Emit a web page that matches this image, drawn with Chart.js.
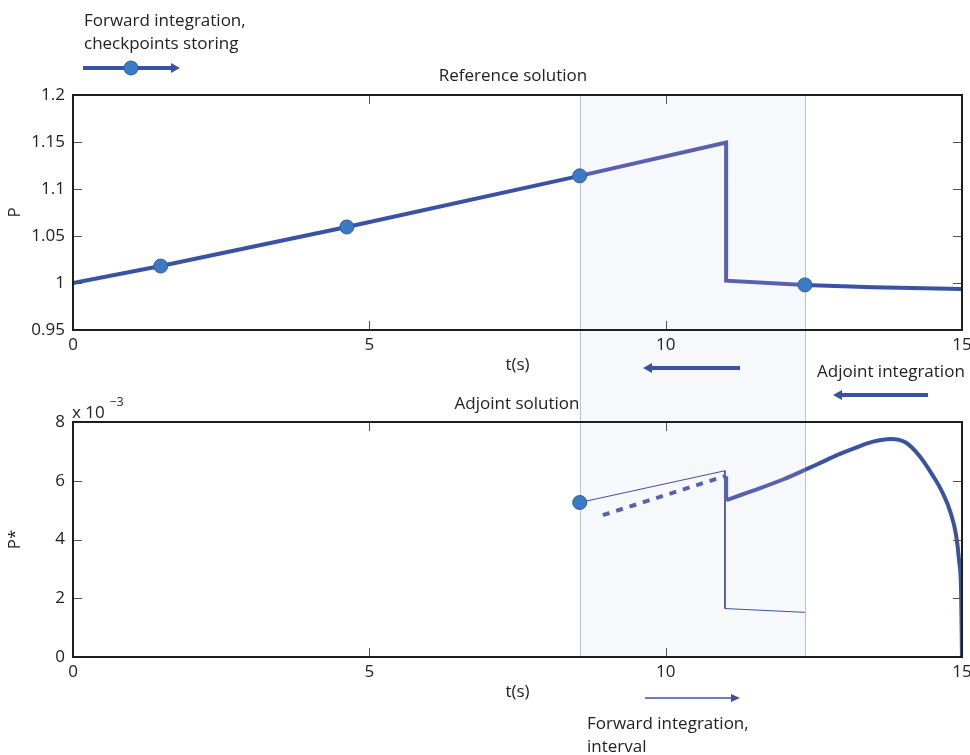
<!DOCTYPE html>
<html>
<head>
<meta charset="utf-8">
<script src="https://cdn.jsdelivr.net/npm/chart.js@4.4.0/dist/chart.umd.min.js"></script>
<style>
  html, body { margin: 0; padding: 0; background: #fff; }
  #page { position: relative; width: 970px; height: 755px; overflow: hidden; font-family: "Open Sans", sans-serif; color: #222; }
  canvas { position: absolute; left: 0; }
  #topChart { top: 0; }
  #botChart { top: 380px; }
  .lbl { position: absolute; font-size: 17px; line-height: 23px; white-space: nowrap; }
  .mid { transform: translate(-50%, -50%); }
  svg { position: absolute; left: 0; top: 0; pointer-events: none; }
</style>
</head>
<body>
<div id="page">
  <canvas id="topChart" width="970" height="380"></canvas>
  <canvas id="botChart" width="970" height="375"></canvas>

  <div class="lbl" style="left:84px; top:8px;">Forward integration,<br>checkpoints storing</div>
  <div class="lbl mid" style="left:513px; top:74px;">Reference solution</div>
  <div class="lbl" style="left:817px; top:359px;">Adjoint integration</div>
  <div class="lbl mid" style="left:517px; top:402px;">Adjoint solution</div>
  <div class="lbl" style="left:72px; top:400px;">x 10</div>
  <div class="lbl" style="left:110px; top:390px; font-size:12px;">&minus;3</div>
  <div class="lbl" style="left:587px; top:711px;">Forward integration,<br>interval</div>

  <svg width="970" height="755">
    <line x1="83" y1="68" x2="172" y2="68" stroke="#3a52a5" stroke-width="4"/>
    <polygon points="171,63 180,68 171,73" fill="#3a52a5"/>
    <circle cx="131" cy="68" r="7" fill="#3b7ac6" stroke="#2d5e9e" stroke-width="1"/>

    <line x1="740" y1="368" x2="651" y2="368" stroke="#3a52a5" stroke-width="4"/>
    <polygon points="652,363 643,368 652,373" fill="#3a52a5"/>

    <line x1="928" y1="395" x2="841" y2="395" stroke="#3a52a5" stroke-width="4"/>
    <polygon points="842,390 833,395 842,400" fill="#3a52a5"/>

    <line x1="645" y1="698" x2="732" y2="698" stroke="#3a52a5" stroke-width="1.5"/>
    <polygon points="731,694 740,698 731,702" fill="#3a52a5"/>
  </svg>
</div>

<script>
// reference solution P(t)
const refT = [0, 1.48, 4.62, 8.55, 11.02, 11.02, 12.35, 13.5, 15];
const refP = [1.0, 1.018, 1.0596, 1.114, 1.1495, 1.0025, 0.998, 0.9955, 0.9935];

// stored checkpoints
const checkT = [1.48, 4.62, 8.55, 12.35];
const checkP = [1.018, 1.0596, 1.114, 0.998];

// adjoint solution P* (x 1e-3)
const jumpT = [11.02, 11.02];
const jumpP = [6.15, 5.34];
const adjT = [11.02, 11.5, 12.0, 12.35, 12.6, 12.9, 13.2, 13.5, 13.8, 14.05, 14.28, 14.5, 14.67, 14.81, 14.9, 14.95, 14.985, 15.0];
const adjP = [5.34, 5.68, 6.06, 6.37, 6.6, 6.88, 7.12, 7.33, 7.42, 7.3, 6.85, 6.2, 5.6, 4.9, 4.15, 3.3, 2.2, 0];

// forward integration over the interval (thin) and its restart (dashed)
const thinT = [8.55, 11.0, 11.0, 12.35];
const thinP = [5.26, 6.34, 1.65, 1.52];
const dashT = [8.94, 11.02];
const dashP = [4.83, 6.17];
const startT = [8.55];
const startP = [5.26];

// ticks
const xTicks = [0, 5, 10, 15];
const topYTicks = [0.95, 1, 1.05, 1.1, 1.15, 1.2];
const botYTicks = [0, 2, 4, 6, 8];

const intervalT = [checkT[2], checkT[3]];

const BLUE = '#3a52a5';
const PURPLE = '#5a60b0';
const MARK = '#3b7ac6';

Chart.defaults.font.family = '"Open Sans", sans-serif';
Chart.defaults.font.size = 17;
Chart.defaults.color = '#222';

const pts = (t, v) => t.map((x, i) => ({ x: x, y: v[i] }));

const inInterval = (c) =>
    c.p0.parsed.x >= intervalT[0] - 1e-6 && c.p1.parsed.x <= intervalT[1] + 1e-6 ? PURPLE : undefined;

// light band marking the recomputed interval
const shadePlugin = {
    id: 'shade',
    beforeDraw(chart, args, opts) {
        const { ctx, chartArea: a, scales: { x } } = chart;
        const x0 = Math.round(x.getPixelForValue(intervalT[0])) + 0.5;
        const x1 = Math.round(x.getPixelForValue(intervalT[1])) + 0.5;
        const top = opts.up ? 0 : a.top;
        const bottom = opts.down ? chart.height : a.bottom;
        ctx.save();
        ctx.fillStyle = '#f6f8fc';
        ctx.fillRect(x0, top, x1 - x0, bottom - top);
        ctx.strokeStyle = '#bcc0dc';
        ctx.lineWidth = 1;
        ctx.beginPath();
        ctx.moveTo(x0, top); ctx.lineTo(x0, bottom);
        ctx.moveTo(x1, top); ctx.lineTo(x1, bottom);
        ctx.stroke();
        ctx.restore();
    }
};

// matlab style box with inward ticks
const boxPlugin = {
    id: 'box',
    afterDraw(chart) {
        const { ctx, chartArea: a, scales: { x, y } } = chart;
        const len = 9;
        ctx.save();
        ctx.strokeStyle = '#555';
        ctx.lineWidth = 1;
        ctx.beginPath();
        x.ticks.forEach(t => {
            const px = Math.round(x.getPixelForValue(t.value)) + 0.5;
            ctx.moveTo(px, a.bottom); ctx.lineTo(px, a.bottom - len);
            ctx.moveTo(px, a.top); ctx.lineTo(px, a.top + len);
        });
        y.ticks.forEach(t => {
            const py = Math.round(y.getPixelForValue(t.value)) + 0.5;
            ctx.moveTo(a.left, py); ctx.lineTo(a.left + len, py);
            ctx.moveTo(a.right, py); ctx.lineTo(a.right - len, py);
        });
        ctx.stroke();
        ctx.strokeStyle = '#1e1e1e';
        ctx.lineWidth = 2;
        ctx.strokeRect(a.left, a.top, a.right - a.left, a.bottom - a.top);
        ctx.restore();
    }
};

const makeScales = (yMin, yMax, yTicks, yTitle) => ({
    x: {
        type: 'linear', min: 0, max: 15,
        afterBuildTicks: s => { s.ticks = xTicks.map(v => ({ value: v })); },
        afterFit: s => { s.height = 50; s.paddingLeft = 0; s.paddingRight = 0; },
        grid: { display: false, drawTicks: false },
        border: { display: false },
        ticks: { padding: 5, maxRotation: 0, autoSkip: false, callback: v => String(v) },
        title: { display: true, text: 't(s)', padding: { top: 0, bottom: 5 } }
    },
    y: {
        type: 'linear', min: yMin, max: yMax,
        afterBuildTicks: s => { s.ticks = yTicks.map(v => ({ value: v })); },
        afterFit: s => { s.width = 73; },
        grid: { display: false, drawTicks: false },
        border: { display: false },
        ticks: { padding: 8, autoSkip: false, callback: v => String(Number(v.toFixed(2))) },
        title: { display: true, text: yTitle, padding: { top: 5, bottom: 0 } }
    }
});

const baseOptions = (padding, shade, scales) => ({
    responsive: false,
    animation: false,
    events: [],
    layout: { padding: padding },
    plugins: { legend: { display: false }, tooltip: { enabled: false }, shade: shade },
    scales: scales
});

new Chart(document.getElementById('topChart'), {
    type: 'scatter',
    data: {
        datasets: [
            {
                data: pts(checkT, checkP), showLine: false,
                pointRadius: 7, pointBackgroundColor: MARK, pointBorderColor: '#2d5e9e', pointBorderWidth: 1
            },
            {
                data: pts(refT, refP), showLine: true, borderColor: BLUE, borderWidth: 4,
                pointRadius: 0, segment: { borderColor: inInterval }
            }
        ]
    },
    options: baseOptions({ left: 0, right: 7, top: 95, bottom: 0 }, { up: false, down: true },
        makeScales(0.95, 1.2, topYTicks, 'P')),
    plugins: [shadePlugin, boxPlugin]
});

new Chart(document.getElementById('botChart'), {
    type: 'scatter',
    data: {
        datasets: [
            {
                data: pts(startT, startP), showLine: false,
                pointRadius: 7, pointBackgroundColor: MARK, pointBorderColor: '#2d5e9e', pointBorderWidth: 1
            },
            {
                data: pts(adjT, adjP), showLine: true, borderColor: BLUE, borderWidth: 4,
                pointRadius: 0, cubicInterpolationMode: 'monotone', segment: { borderColor: inInterval }
            },
            {
                data: pts(jumpT, jumpP), showLine: true, borderColor: PURPLE, borderWidth: 4, pointRadius: 0
            },
            {
                data: pts(dashT, dashP), showLine: true, borderColor: PURPLE, borderWidth: 4,
                borderDash: [7, 7], pointRadius: 0
            },
            {
                data: pts(thinT, thinP), showLine: true, borderColor: BLUE, borderWidth: 1, pointRadius: 0
            }
        ]
    },
    options: baseOptions({ left: 0, right: 7, top: 42, bottom: 48 }, { up: true, down: false },
        makeScales(0, 8, botYTicks, 'P*')),
    plugins: [shadePlugin, boxPlugin]
});
</script>
</body>
</html>
